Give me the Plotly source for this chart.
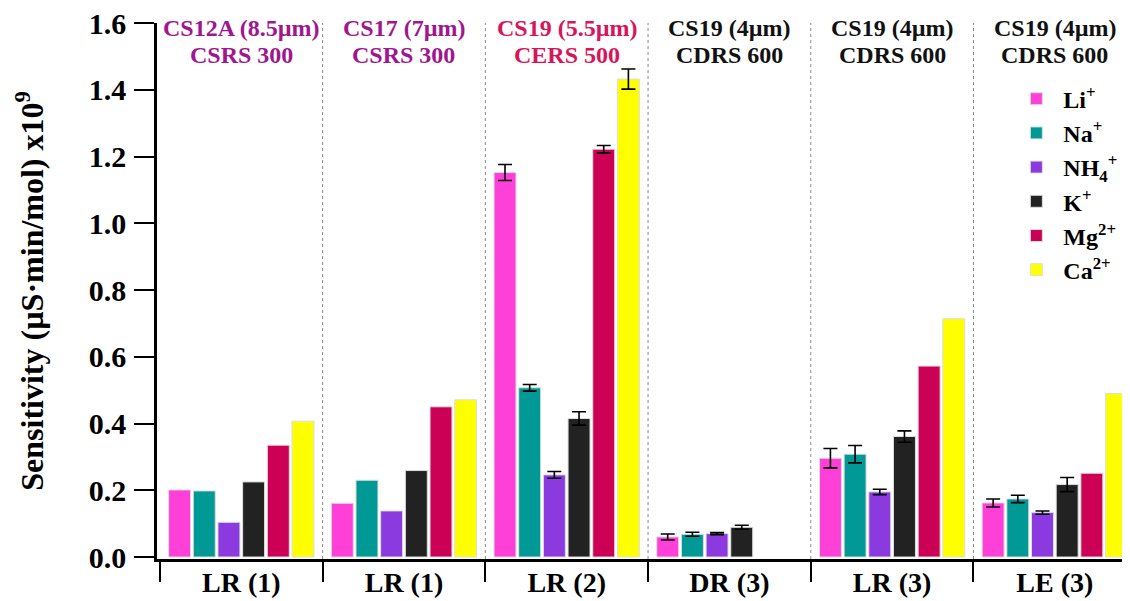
import plotly.graph_objects as go

groups = ["LR (1)", "LR (1)", "LR (2)", "DR (3)", "LR (3)", "LE (3)"]
top_line1 = ["CS12A (8.5µm)", "CS17 (7µm)", "CS19 (5.5µm)", "CS19 (4µm)", "CS19 (4µm)", "CS19 (4µm)"]
top_line2 = ["CSRS 300", "CSRS 300", "CERS 500", "CDRS 600", "CDRS 600", "CDRS 600"]
top_colors = ["#a0168e", "#a0168e", "#d8145a", "#111111", "#111111", "#111111"]

ions = ["Li<sup>+</sup>", "Na<sup>+</sup>", "NH<sub>4</sub><sup>+</sup>", "K<sup>+</sup>", "Mg<sup>2+</sup>", "Ca<sup>2+</sup>"]
colors = ["#ff40d8", "#009995", "#8b3ae0", "#222222", "#cc0055", "#ffff00"]

li = [0.201, 0.161, 1.152, 0.060, 0.296, 0.162]
na = [0.198, 0.230, 0.507, 0.068, 0.308, 0.174]
nh4 = [0.104, 0.138, 0.246, 0.070, 0.195, 0.133]
k = [0.225, 0.259, 0.415, 0.089, 0.361, 0.217]
mg = [0.335, 0.450, 1.222, None, 0.572, 0.251]
ca = [0.407, 0.471, 1.432, None, 0.714, 0.490]

li_err = [None, None, 0.024, 0.009, 0.029, 0.012]
na_err = [None, None, 0.010, 0.006, 0.026, 0.011]
nh4_err = [None, None, 0.010, 0.003, 0.008, 0.005]
k_err = [None, None, 0.020, 0.006, 0.017, 0.021]
mg_err = [None, None, 0.011, None, None, None]
ca_err = [None, None, 0.030, None, None, None]

y_ticks = [0.0, 0.2, 0.4, 0.6, 0.8, 1.0, 1.2, 1.4, 1.6]

series = [li, na, nh4, k, mg, ca]
errors = [li_err, na_err, nh4_err, k_err, mg_err, ca_err]

FONT = "Liberation Serif"
xpos = list(range(len(groups)))

fig = go.Figure()
for name, vals, errs, col in zip(ions, series, errors, colors):
    # missing errors -> "NaN" so plotly.js skips drawing the bar's error cap
    err_arr = ["NaN" if e is None else e for e in errs]
    fig.add_trace(go.Bar(
        x=xpos, y=vals, name=name,
        marker=dict(color=col, line=dict(color="#dddddd", width=1)),
        error_y=dict(type="data", array=err_arr, visible=True, color="#000000", thickness=1.6, width=7),
    ))

for i in range(1, len(groups)):
    fig.add_vline(x=i - 0.5, line=dict(color="#888888", width=1, dash="dot"))

for i, (a, b, c) in enumerate(zip(top_line1, top_line2, top_colors)):
    fig.add_annotation(x=i, y=1.0, xref="x", yref="paper", yanchor="middle", yshift=-5,
                       text=f"<b>{a}</b>", showarrow=False,
                       font=dict(family=FONT, size=24, color=c))
    fig.add_annotation(x=i, y=1.0, xref="x", yref="paper", yanchor="middle", yshift=-32,
                       text=f"<b>{b}</b>", showarrow=False,
                       font=dict(family=FONT, size=24, color=c))

# the page body keeps an 8 px default margin, so the figure is sized to fit the window
fig.update_layout(
    width=1122, height=593,
    margin=dict(l=149, r=0, t=15, b=42),
    paper_bgcolor="white", plot_bgcolor="white",
    barmode="group", bargap=0.09, bargroupgap=0.11,
    font=dict(family=FONT, size=21, color="#000000"),
    showlegend=True,
    legend=dict(x=0.876, y=0.9, xanchor="left", yanchor="top",
                font=dict(family=FONT, size=24, color="#000000", weight="bold"),
                bgcolor="rgba(0,0,0,0)", tracegroupgap=0, itemwidth=44),
)
fig.update_xaxes(
    range=[-0.518, 5.462], tickvals=xpos, ticktext=[f"<b>{g}</b>" for g in groups],
    ticks="", ticklabeloverflow="allow", ticklabelstandoff=-3,
    showline=True, linecolor="#000000", linewidth=2.5, showgrid=False, zeroline=False,
    minor=dict(tick0=-0.5, dtick=1, ticks="outside", ticklen=20, tickwidth=2, tickcolor="#000000", showgrid=False),
    tickfont=dict(family=FONT, size=28), automargin=False,
)
fig.update_yaxes(
    range=[-0.006, 1.6], tickvals=y_ticks,
    ticktext=[f"<b>{v:.1f}</b>" for v in y_ticks],
    ticks="outside", ticklen=20, tickwidth=2, tickcolor="#000000", ticklabeloverflow="allow",
    showline=True, linecolor="#000000", linewidth=2.5, showgrid=False, zeroline=False,
    tickfont=dict(family=FONT, size=30), ticklabelstandoff=2,
    title=dict(text="<b>Sensitivity (µS·min/mol) x10<sup>9</sup></b>", font=dict(family=FONT, size=32), standoff=36),
    automargin=False,
)

fig.write_html("out.html")
